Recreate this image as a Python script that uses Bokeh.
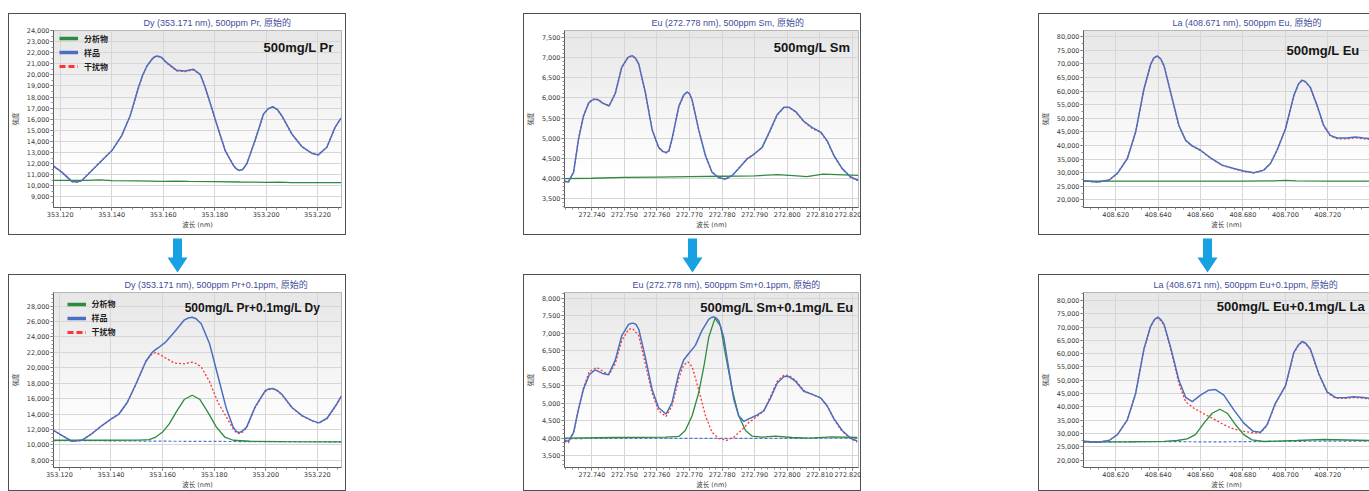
import numpy as np
from bokeh.plotting import figure
from bokeh.models import (Range1d, FixedTicker, NumeralTickFormatter, PrintfTickFormatter,
                          Label, Legend, LegendItem, Spacer)
from bokeh.layouts import row, column
from bokeh.embed import file_html
from bokeh.resources import INLINE

# ------------------------------------------------------------------ data
# Column 1 : Dy 353.171 nm
dy_xticks = [353.12, 353.14, 353.16, 353.18, 353.20, 353.22]
dy_top_yticks = [9000, 10000, 11000, 12000, 13000, 14000, 15000, 16000, 17000, 18000,
                 19000, 20000, 21000, 22000, 23000, 24000]
dy_bot_yticks = [8000, 10000, 12000, 14000, 16000, 18000, 20000, 22000, 24000, 26000, 28000]

dy_top_x = [353.1174, 353.1206, 353.1245, 353.1265, 353.1284, 353.1323, 353.1362, 353.1401,
            353.1439, 353.1472, 353.1504, 353.1520, 353.1537, 353.1556, 353.1566, 353.1575,
            353.1585, 353.1595, 353.1614, 353.1653, 353.1685, 353.1718, 353.1744, 353.1759,
            353.1776, 353.1808, 353.1841, 353.1873, 353.1885, 353.1896, 353.1910, 353.1925,
            353.1957, 353.1990, 353.2008, 353.2026, 353.2043, 353.2061, 353.2100, 353.2139,
            353.2177, 353.2203, 353.2236, 353.2268, 353.2291]
dy_top_sample = [11780, 11240, 10400, 10350, 10490, 11390, 12290, 13180, 14530, 16320, 18860,
                 19950, 20800, 21400, 21620, 21700, 21660, 21550, 21100, 20410, 20350, 20500,
                 20050, 19160, 17960, 15570, 13180, 11840, 11520, 11390, 11500, 11990, 14080,
                 16470, 16950, 17130, 16900, 16320, 14680, 13540, 12940, 12790, 13480, 15270,
                 16110]
dy_top_interf = [11800, 11250, 10390, 10340, 10480, 11400, 12300, 13200, 14520, 16330, 18850,
                 19940, 20780, 21380, 21590, 21660, 21630, 21520, 21060, 20350, 20290, 20460,
                 20020, 19150, 17950, 15560, 13190, 11850, 11510, 11380, 11490, 11980, 14060,
                 16450, 16930, 17100, 16880, 16300, 14660, 13530, 12950, 12800, 13470, 15250,
                 16100]
dy_top_analyte_x = [353.1174, 353.1300, 353.1355, 353.1400, 353.1500, 353.1600, 353.1650,
                    353.1700, 353.1800, 353.1900, 353.2000, 353.2050, 353.2100, 353.2291]
dy_top_analyte = [10490, 10500, 10540, 10480, 10450, 10400, 10420, 10400, 10390, 10350,
                  10320, 10340, 10300, 10300]

dy_bot_x = [353.1177, 353.1209, 353.1248, 353.1287, 353.1326, 353.1365, 353.1401, 353.1431,
            353.1463, 353.1496, 353.1535, 353.1560, 353.1574, 353.1590, 353.1613, 353.1646,
            353.1685, 353.1700, 353.1715, 353.1730, 353.1750, 353.1782, 353.1815, 353.1848,
            353.1874, 353.1886, 353.1897, 353.1910, 353.1926, 353.1958, 353.1997, 353.2012,
            353.2027, 353.2045, 353.2063, 353.2102, 353.2141, 353.2180, 353.2206, 353.2238,
            353.2271, 353.2294]
dy_bot_sample = [11870, 11240, 10470, 10600, 11450, 12510, 13360, 14000, 15490, 17830, 20810,
                 22000, 22380, 22750, 23360, 24640, 26210, 26450, 26550, 26350, 25700, 23150,
                 18890, 14640, 12300, 11750, 11580, 11800, 12300, 14850, 16980, 17250, 17320,
                 17050, 16550, 14850, 13790, 13150, 12850, 13450, 15070, 16340]
dy_bot_interf = [11870, 11240, 10470, 10600, 11450, 12510, 13360, 14000, 15490, 17830, 20810,
                 21850, 21960, 21700, 21230, 20600, 20510, 20620, 20720, 20550, 20100, 18200,
                 15500, 13580, 12090, 11600, 11450, 11650, 12200, 14800, 16900, 17180, 17250,
                 17000, 16480, 14800, 13750, 13100, 12800, 13400, 15000, 16300]
dy_bot_analyte_x = [353.1177, 353.1352, 353.1509, 353.1548, 353.1574, 353.1600, 353.1626,
                    353.1652, 353.1685, 353.1715, 353.1744, 353.1776, 353.1809, 353.1841,
                    353.1874, 353.1939, 353.2069, 353.2294]
dy_bot_analyte = [10600, 10600, 10620, 10680, 11020, 11660, 12720, 14210, 15920, 16430, 15920,
                  14210, 12300, 11020, 10600, 10470, 10430, 10390]
dy_bot_base_x = [353.1177, 353.1400, 353.1600, 353.1800, 353.2000, 353.2294]
dy_bot_base = [10560, 10530, 10480, 10450, 10420, 10400]

# Column 2 : Eu 272.778 nm
eu_xticks = [272.74, 272.75, 272.76, 272.77, 272.78, 272.79, 272.80, 272.81, 272.82]
eu_top_yticks = [3500, 4000, 4500, 5000, 5500, 6000, 6500, 7000, 7500]
eu_bot_yticks = [3500, 4000, 4500, 5000, 5500, 6000, 6500, 7000, 7500, 8000]

eu_top_x = [272.7316, 272.7328, 272.7344, 272.7359, 272.7374, 272.7390, 272.7400, 272.7410,
            272.7420, 272.7433, 272.7453, 272.7472, 272.7492, 272.7511, 272.7518, 272.7525,
            272.7534, 272.7544, 272.7564, 272.7585, 272.7605, 272.7618, 272.7628, 272.7637,
            272.7646, 272.7667, 272.7682, 272.7692, 272.7700, 272.7708, 272.7728, 272.7749,
            272.7769, 272.7790, 272.7810, 272.7831, 272.7851, 272.7877, 272.7897, 272.7923,
            272.7944, 272.7969, 272.7990, 272.8005, 272.8026, 272.8051, 272.8077, 272.8103,
            272.8123, 272.8144, 272.8169, 272.8195, 272.8218]
eu_top_sample = [3925, 3908, 4150, 4970, 5540, 5870, 5940, 5970, 5950, 5870, 5800, 6110, 6770,
                 7010, 7040, 7050, 6990, 6850, 6150, 5210, 4770, 4670, 4640, 4690, 4970, 5790,
                 6070, 6150, 6110, 5950, 5210, 4560, 4150, 4010, 3980, 4070, 4240, 4480, 4590,
                 4770, 5130, 5580, 5770, 5770, 5660, 5420, 5260, 5150, 4930, 4560, 4240, 4030,
                 3950]
eu_top_interf = [3920, 3900, 4160, 4980, 5550, 5880, 5960, 5990, 5960, 5880, 5810, 6120, 6760,
                 7000, 7030, 7040, 6980, 6840, 6140, 5220, 4760, 4660, 4630, 4680, 4960, 5780,
                 6060, 6140, 6100, 5940, 5220, 4570, 4160, 4020, 3970, 4060, 4250, 4490, 4600,
                 4760, 5120, 5570, 5760, 5760, 5650, 5410, 5240, 5140, 4920, 4550, 4230, 4020,
                 3940]
eu_top_analyte_x = [272.7316, 272.7400, 272.7500, 272.7600, 272.7700, 272.7800, 272.7900,
                    272.7970, 272.8030, 272.8060, 272.8110, 272.8218]
eu_top_analyte = [3990, 4000, 4020, 4030, 4040, 4050, 4060, 4090, 4060, 4040, 4100, 4070]

eu_bot_x = [272.7316, 272.7328, 272.7344, 272.7359, 272.7374, 272.7392, 272.7410, 272.7433,
            272.7451, 272.7472, 272.7492, 272.7513, 272.7520, 272.7528, 272.7536, 272.7544,
            272.7564, 272.7585, 272.7605, 272.7628, 272.7646, 272.7667, 272.7682, 272.7697,
            272.7718, 272.7738, 272.7759, 272.7767, 272.7774, 272.7782, 272.7790, 272.7805,
            272.7821, 272.7836, 272.7851, 272.7867, 272.7882, 272.7903, 272.7928, 272.7949,
            272.7969, 272.7990, 272.8005, 272.8026, 272.8051, 272.8077, 272.8103, 272.8123,
            272.8144, 272.8169, 272.8195, 272.8215]
eu_bot_sample = [3940, 3910, 4170, 4830, 5390, 5810, 5950, 5850, 5810, 6230, 6930, 7250, 7275,
                 7285, 7240, 7110, 6320, 5390, 4870, 4690, 5010, 5850, 6230, 6410, 6650, 7070,
                 7390, 7445, 7460, 7430, 7350, 6880, 5950, 5110, 4640, 4480, 4550, 4640, 4780,
                 5150, 5570, 5760, 5760, 5620, 5340, 5250, 5150, 4920, 4550, 4220, 4000, 3920]
eu_bot_interf_x = [272.7316, 272.7328, 272.7344, 272.7359, 272.7374, 272.7392, 272.7415,
                   272.7436, 272.7453, 272.7472, 272.7492, 272.7513, 272.7525, 272.7544,
                   272.7564, 272.7585, 272.7605, 272.7628, 272.7646, 272.7667, 272.7682,
                   272.7695, 272.7708, 272.7728, 272.7749, 272.7769, 272.7790, 272.7815,
                   272.7836, 272.7862, 272.7882, 272.7903, 272.7928, 272.7949, 272.7969,
                   272.7990, 272.8005, 272.8026, 272.8051, 272.8077, 272.8103, 272.8123,
                   272.8144, 272.8169, 272.8195, 272.8215]
eu_bot_interf = [3910, 3870, 4150, 4830, 5430, 5900, 6020, 5900, 5810, 6130, 6790, 7110, 7130,
                 6930, 6130, 5290, 4780, 4620, 4920, 5710, 6090, 6180, 6040, 5390, 4640, 4170,
                 3990, 3940, 4030, 4250, 4450, 4590, 4780, 5200, 5620, 5800, 5790, 5650, 5360,
                 5250, 5150, 4920, 4530, 4190, 3990, 3890]
eu_bot_analyte_x = [272.7316, 272.7472, 272.7626, 272.7667, 272.7687, 272.7708, 272.7728,
                    272.7744, 272.7759, 272.7778, 272.7795, 272.7810, 272.7831, 272.7851,
                    272.7872, 272.7892, 272.7923, 272.7964, 272.8015, 272.8067, 272.8138,
                    272.8215]
eu_bot_analyte = [4000, 4020, 4030, 4050, 4220, 4640, 5290, 6040, 6880, 7420, 7210, 6410, 5390,
                  4640, 4220, 4060, 4030, 4060, 4020, 4000, 4040, 4020]
eu_bot_base_x = [272.7316, 272.7600, 272.7900, 272.8215]
eu_bot_base = [3990, 3995, 3995, 4000]

# Column 3 : La 408.671 nm
la_xticks = [408.62, 408.64, 408.66, 408.68, 408.70, 408.72, 408.74]
la_yticks = [20000, 25000, 30000, 35000, 40000, 45000, 50000, 55000, 60000, 65000, 70000,
             75000, 80000]

la_top_x = [408.6048, 408.6114, 408.6169, 408.6208, 408.6255, 408.6294, 408.6333, 408.6365,
            408.6380, 408.6396, 408.6412, 408.6428, 408.6459, 408.6498, 408.6530, 408.6561,
            408.6600, 408.6647, 408.6702, 408.6757, 408.6804, 408.6851, 408.6898, 408.6930,
            408.6961, 408.7001, 408.7040, 408.7062, 408.7079, 408.7095, 408.7118, 408.7150,
            408.7181, 408.7212, 408.7244, 408.7291, 408.7330, 408.7370, 408.7401]
la_top_sample = [27060, 26570, 27300, 29740, 35210, 44950, 60770, 69900, 72200, 72940, 71900,
                 69290, 59550, 47380, 41910, 39840, 38260, 35460, 32780, 31560, 30590, 29980,
                 30950, 33390, 38260, 46170, 58340, 62600, 64060, 63500, 61380, 54690, 47380,
                 43730, 42760, 42760, 43130, 42760, 42520]
la_top_interf = [27000, 26500, 27250, 29800, 35300, 45000, 60700, 69800, 72100, 72800, 71800,
                 69200, 59500, 47300, 41850, 39750, 38200, 35400, 32700, 31500, 30500, 29900,
                 30900, 33500, 38400, 46300, 58300, 62500, 63900, 63300, 61200, 54500, 47200,
                 43500, 42500, 42400, 42800, 42450, 42200]
la_top_analyte_x = [408.6048, 408.6400, 408.6800, 408.6950, 408.7000, 408.7050, 408.7200,
                    408.7401]
la_top_analyte = [26900, 26900, 26900, 27000, 27200, 27000, 26900, 26900]

la_bot_x = [408.6048, 408.6114, 408.6169, 408.6208, 408.6255, 408.6294, 408.6333, 408.6365,
            408.6383, 408.6399, 408.6414, 408.6428, 408.6459, 408.6498, 408.6530, 408.6561,
            408.6600, 408.6639, 408.6671, 408.6710, 408.6757, 408.6804, 408.6848, 408.6883,
            408.6914, 408.6953, 408.7001, 408.7040, 408.7062, 408.7079, 408.7095, 408.7118,
            408.7158, 408.7197, 408.7236, 408.7283, 408.7322, 408.7370, 408.7401]
la_bot_sample = [27160, 26790, 27410, 29630, 35180, 45060, 61730, 70370, 72900, 73700, 72700,
                 70990, 62350, 50000, 43580, 41980, 44440, 46300, 46540, 44440, 38890, 33950,
                 30860, 30490, 33330, 41360, 48000, 60490, 63300, 64570, 64000, 61730, 52470,
                 45680, 43580, 43460, 43830, 43580, 43210]
la_bot_interf_x = [408.6048, 408.6114, 408.6169, 408.6208, 408.6255, 408.6294, 408.6333,
                   408.6365, 408.6383, 408.6399, 408.6414, 408.6428, 408.6459, 408.6498,
                   408.6530, 408.6569, 408.6616, 408.6663, 408.6710, 408.6757, 408.6804,
                   408.6851, 408.6883, 408.6914, 408.6953, 408.7001, 408.7040, 408.7062,
                   408.7079, 408.7095, 408.7118, 408.7158, 408.7197, 408.7236, 408.7283,
                   408.7322, 408.7370, 408.7401]
la_bot_interf = [27160, 26790, 27410, 29630, 35180, 45060, 61730, 70370, 72700, 73400, 72300,
                 70500, 61800, 48770, 41980, 39500, 37410, 35430, 33330, 31730, 30860, 30250,
                 30250, 33100, 41200, 47800, 60300, 63100, 64400, 63800, 61500, 52200, 45400,
                 43300, 43200, 43500, 43300, 42900]
la_bot_analyte_x = [408.6048, 408.6271, 408.6428, 408.6490, 408.6537, 408.6576, 408.6616,
                    408.6655, 408.6691, 408.6726, 408.6765, 408.6804, 408.6843, 408.6898,
                    408.7055, 408.7181, 408.7401]
la_bot_analyte = [26910, 26950, 27100, 27410, 28020, 29630, 33950, 37650, 39130, 37650, 33330,
                  29630, 27650, 27040, 27410, 27780, 27410]
la_bot_base_x = [408.6048, 408.6400, 408.6670, 408.7000, 408.7401]
la_bot_base = [26800, 27000, 26900, 27100, 27200]

legend_labels = ["分析物", "样品", "干扰物"]

# ------------------------------------------------------------------ style
C_SAMPLE = "#4a6fc0"
C_ANALYTE = "#2e8b3e"
C_INTERF = "#ff3535"
C_BASE = "#4a78d4"
C_ARROW = "#17a1e2"
FONT = "DejaVu Sans, Noto Sans CJK SC"
TFONT = "Liberation Sans, Noto Sans CJK SC"
CJK = "Noto Sans CJK SC"
SHADOW_ALL = "inset 0 0 0 1px #505050"
SHADOW_NO_RIGHT = "inset 1px 0 0 0 #505050, inset 0 1px 0 0 #505050, inset 0 -1px 0 0 #505050"

PAGE_W, PAGE_H = 1369, 491
LEFT_PAD, TOP_PAD = 8, 13
BOX_W, GAP = 338, 177
CONTENT_W = PAGE_W - LEFT_PAD
RIGHT_W = CONTENT_W - 2 * BOX_W - 2 * GAP
TOP_H, ARROW_H = 222, 39
BOT_H = PAGE_H - TOP_PAD - TOP_H - ARROW_H
LEG_H = 46


def minors(ticks, n):
    step = (ticks[1] - ticks[0]) / n
    start = ticks[0] - step * n
    return [round(start + i * step, 6) for i in range((len(ticks) + 1) * n + 1)]


def gradient():
    n = 240
    img = np.empty((n, 1), dtype=np.uint32)
    v = img.view(dtype=np.uint8).reshape((n, 1, 4))
    t = np.linspace(0.0, 1.0, n)
    shade = (255 - 24 * np.clip((t - 0.22) / 0.78, 0, 1)).astype(np.uint8)
    v[:, 0, 0] = shade
    v[:, 0, 1] = shade
    v[:, 0, 2] = shade
    v[:, 0, 3] = 255
    return img


GRAD = gradient()


def make_panel(c):
    W, H = c["W"], c["H"]
    mbl, mbr, mbt, mbb = c["mb"]
    (x0, x1), (y0, y1) = c["xr"], c["yr"]
    fw, fh = W - mbl - mbr, H - mbt - mbb
    sx = (x1 - x0) / fw
    sy = (y1 - y0) / fh
    p = figure(width=W, height=H, x_range=Range1d(x0, x1), y_range=Range1d(y0, y1),
               output_backend="svg", toolbar_location=None,
               min_border_left=mbl, min_border_right=mbr,
               min_border_top=mbt, min_border_bottom=mbb,
               border_fill_color=None, background_fill_color="white",
               outline_line_color="#a8a8a8",
               styles={"box-shadow": c["shadow"], "background-color": "white"})

    p.title.text = c["title"]
    p.title.align = "left"
    p.title.offset = c["title_off"]
    p.title.standoff = 5
    p.title.text_font = TFONT
    p.title.text_font_size = "9px"
    p.title.text_font_style = "normal"
    p.title.text_color = "#3f4c98"

    xa, ya = p.xaxis[0], p.yaxis[0]
    xa.ticker = FixedTicker(ticks=c["xt"], minor_ticks=minors(c["xt"], 5))
    xa.formatter = PrintfTickFormatter(format="%.3f")
    ya.ticker = FixedTicker(ticks=c["yt"], minor_ticks=minors(c["yt"], c["yminor"]))
    ya.formatter = NumeralTickFormatter(format="0,0")
    for ax in (xa, ya):
        ax.axis_line_color = "#5c5c5c"
        ax.major_tick_line_color = "#5c5c5c"
        ax.minor_tick_line_color = "#8c8c8c"
        ax.major_tick_in = 0
        ax.major_tick_out = 3
        ax.minor_tick_in = 0
        ax.minor_tick_out = 2
        ax.major_label_text_font = FONT
        ax.major_label_text_font_size = "6.5px"
        ax.major_label_text_color = "#383838"
        ax.major_label_standoff = 1
        ax.axis_label_text_font = FONT
        ax.axis_label_text_font_size = "6.5px"
        ax.axis_label_text_font_style = "normal"
        ax.axis_label_text_color = "#404040"
    ya.axis_label = "强度"
    ya.axis_label_standoff = 4
    xa.axis_label = "波长 (nm)"
    xa.axis_label_standoff = 1
    p.xgrid.ticker = FixedTicker(ticks=c["xt"])
    p.ygrid.ticker = FixedTicker(ticks=c["yt"])
    p.grid.grid_line_color = "#d6d6d6"

    p.image_rgba(image=[GRAD], x=x0, y=y0, dw=x1 - x0, dh=y1 - y0, level="image")

    if c.get("base"):
        bx, by = c["base"]
        p.line(bx, by, color=C_BASE, line_width=1.2, line_dash="3 2")
    ix, iy = c["interf"]
    p.line(ix, iy, color=C_INTERF, line_width=1.3, line_dash="2 2")
    ax_, ay_ = c["analyte"]
    p.line(ax_, ay_, color=C_ANALYTE, line_width=1.3)
    sx_, sy_ = c["sample"]
    p.line(sx_, sy_, color=C_SAMPLE, line_width=1.5)

    if c.get("legend"):
        lx, ly = c["legend"]
        r_a = p.line([np.nan], [np.nan], color=C_ANALYTE, line_width=3.5)
        r_s = p.line([np.nan], [np.nan], color=C_SAMPLE, line_width=3.5)
        r_i = p.line([np.nan], [np.nan], color=C_INTERF, line_width=3, line_dash="6 3")
        leg = Legend(items=[LegendItem(label=legend_labels[0], renderers=[r_a]),
                            LegendItem(label=legend_labels[1], renderers=[r_s]),
                            LegendItem(label=legend_labels[2], renderers=[r_i])],
                     location=(lx, fh - LEG_H - ly), orientation="vertical",
                     background_fill_color=None, border_line_color=None,
                     padding=2, spacing=3, margin=0, glyph_width=19, glyph_height=10,
                     label_height=10, label_standoff=6, label_text_font=CJK,
                     label_text_font_size="8px", label_text_font_style="bold",
                     label_text_color="#1e1e1e")
        p.add_layout(leg)

    nx, ny = c["note_pos"]
    p.add_layout(Label(x=x0 + nx * sx, y=y1 - ny * sy, text=c["note"], text_align="center",
                       text_baseline="middle", text_font="Liberation Sans",
                       text_font_size=c["note_fs"], text_font_style="bold",
                       text_color="#161616"))
    return p


panels = [
    dict(W=BOX_W, H=TOP_H, mb=(45, 5, 16, 28), xr=(353.1174, 353.2293), yr=(8050, 24000),
         xt=dy_xticks, yt=dy_top_yticks, yminor=2, shadow=SHADOW_ALL,
         title="Dy (353.171 nm), 500ppm Pr, 原始的", title_off=90,
         sample=(dy_top_x, dy_top_sample), interf=(dy_top_x, dy_top_interf),
         analyte=(dy_top_analyte_x, dy_top_analyte), legend=(6, -3.3),
         note="500mg/L Pr", note_pos=(245, 17.4), note_fs="13px"),
    dict(W=BOX_W, H=TOP_H, mb=(41, 3, 16, 28), xr=(272.7316, 272.8219), yr=(3271, 7680),
         xt=eu_xticks, yt=eu_top_yticks, yminor=5, shadow=SHADOW_ALL,
         title="Eu (272.778 nm), 500ppm Sm, 原始的", title_off=87,
         sample=(eu_top_x, eu_top_sample), interf=(eu_top_x, eu_top_interf),
         analyte=(eu_top_analyte_x, eu_top_analyte),
         note="500mg/L Sm", note_pos=(247.5, 17.4), note_fs="13px"),
    dict(W=RIGHT_W, H=TOP_H, mb=(45, 0, 16, 28), xr=(408.6048, 408.7397), yr=(17200, 82300),
         xt=la_xticks, yt=la_yticks, yminor=2, shadow=SHADOW_NO_RIGHT,
         title="La (408.671 nm), 500ppm Eu, 原始的", title_off=89,
         sample=(la_top_x, la_top_sample), interf=(la_top_x, la_top_interf),
         analyte=(la_top_analyte_x, la_top_analyte),
         note="500mg/L Eu", note_pos=(239.5, 19.7), note_fs="13px"),
    dict(W=BOX_W, H=BOT_H, mb=(45, 5, 18, 22), xr=(353.1177, 353.2294), yr=(7070, 29750),
         xt=dy_xticks, yt=dy_bot_yticks, yminor=4, shadow=SHADOW_ALL,
         title="Dy (353.171 nm), 500ppm Pr+0.1ppm, 原始的", title_off=71,
         sample=(dy_bot_x, dy_bot_sample), interf=(dy_bot_x, dy_bot_interf),
         analyte=(dy_bot_analyte_x, dy_bot_analyte), base=(dy_bot_base_x, dy_bot_base),
         legend=(13.5, 1),
         note="500mg/L Pr+0.1mg/L Dy", note_pos=(199, 16), note_fs="12px"),
    dict(W=BOX_W, H=BOT_H, mb=(41, 3, 18, 22), xr=(272.7316, 272.8219), yr=(3164, 8159),
         xt=eu_xticks, yt=eu_bot_yticks, yminor=4, shadow=SHADOW_ALL,
         title="Eu (272.778 nm), 500ppm Sm+0.1ppm, 原始的", title_off=68,
         sample=(eu_bot_x, eu_bot_sample), interf=(eu_bot_interf_x, eu_bot_interf),
         analyte=(eu_bot_analyte_x, eu_bot_analyte), base=(eu_bot_base_x, eu_bot_base),
         note="500mg/L Sm+0.1mg/L Eu", note_pos=(212.5, 14.7), note_fs="13px"),
    dict(W=RIGHT_W, H=BOT_H, mb=(45, 0, 18, 22), xr=(408.6048, 408.7397), yr=(17280, 82960),
         xt=la_xticks, yt=la_yticks, yminor=2, shadow=SHADOW_NO_RIGHT,
         title="La (408.671 nm), 500ppm Eu+0.1ppm, 原始的", title_off=70,
         sample=(la_bot_x, la_bot_sample), interf=(la_bot_interf_x, la_bot_interf),
         analyte=(la_bot_analyte_x, la_bot_analyte), base=(la_bot_base_x, la_bot_base),
         note="500mg/L Eu+0.1mg/L La", note_pos=(207.5, 13.7), note_fs="13px"),
]

figs = [make_panel(c) for c in panels]

# ------------------------------------------------------------------ arrows between rows
af = figure(width=CONTENT_W, height=ARROW_H, x_range=Range1d(0, CONTENT_W),
            y_range=Range1d(0, ARROW_H), output_backend="svg", toolbar_location=None,
            min_border=0, x_axis_location=None, y_axis_location=None,
            border_fill_color=None, background_fill_color=None, outline_line_color=None)
af.grid.visible = False
centers = [BOX_W / 2, BOX_W + GAP + BOX_W / 2, 2 * (BOX_W + GAP) + BOX_W / 2]
xs = [[cx - 4.5, cx + 4.5, cx + 4.5, cx + 10, cx, cx - 10, cx - 4.5] for cx in centers]
ys = [[ARROW_H - 3, ARROW_H - 3, 17, 17, 2, 17, 17] for _ in centers]
af.patches(xs, ys, fill_color=C_ARROW, line_color=None)

top_row = row(figs[0], Spacer(width=GAP, height=TOP_H), figs[1],
              Spacer(width=GAP, height=TOP_H), figs[2])
bot_row = row(figs[3], Spacer(width=GAP, height=BOT_H), figs[4],
              Spacer(width=GAP, height=BOT_H), figs[5])
content = column(Spacer(width=CONTENT_W, height=TOP_PAD), top_row, af, bot_row)
root = row(Spacer(width=LEFT_PAD, height=PAGE_H), content)

open("out.html", "w", encoding="utf-8").write(file_html(root, INLINE))
